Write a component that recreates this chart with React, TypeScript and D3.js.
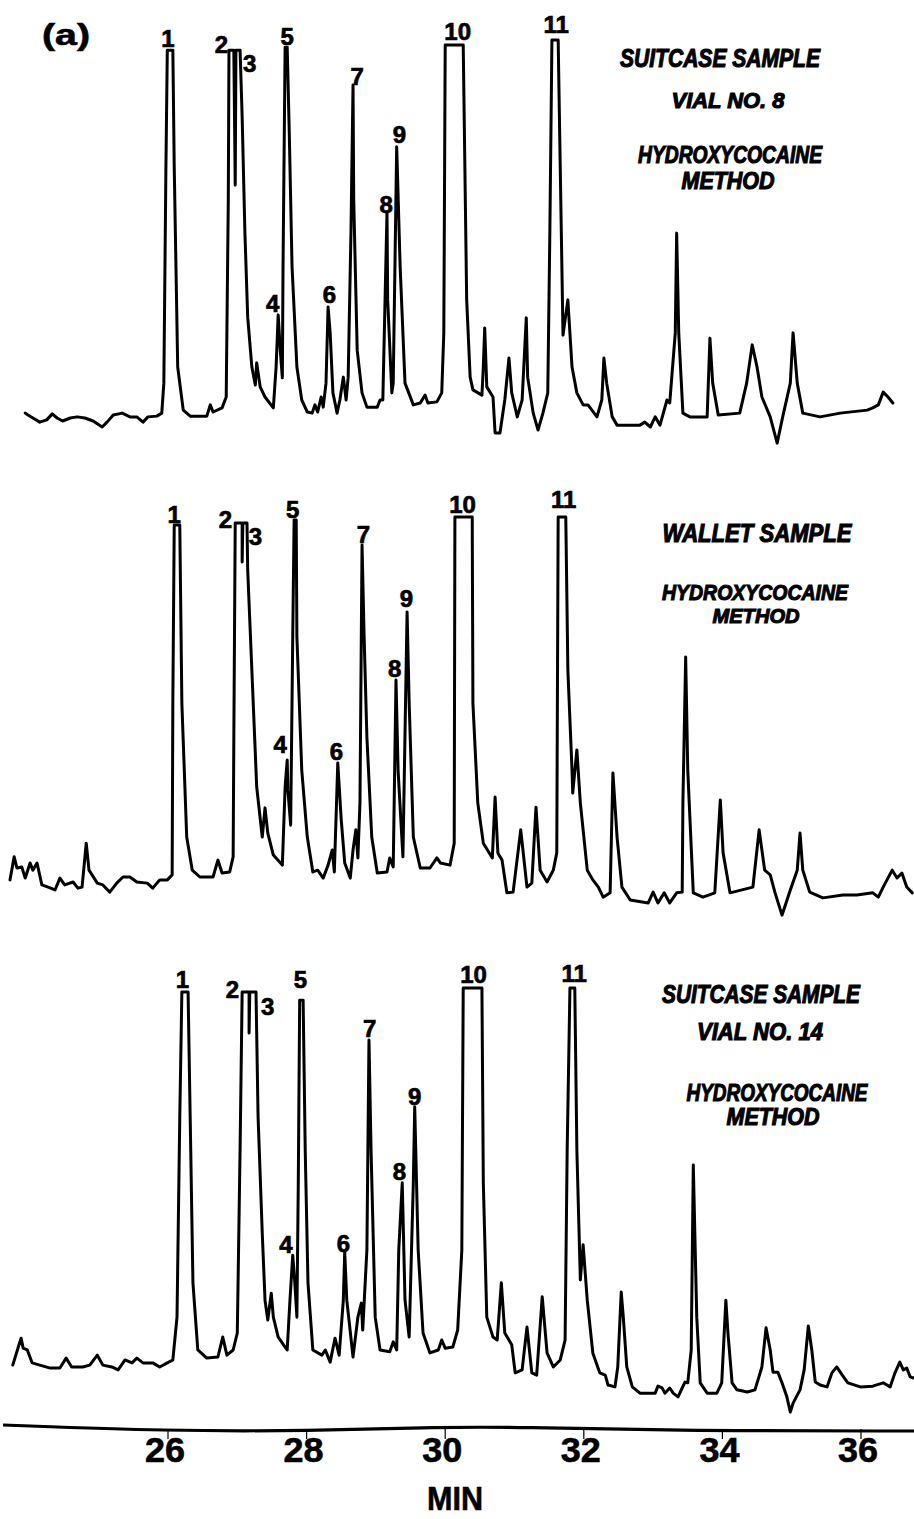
import React from 'react';
import * as d3 from 'd3';

// retention time (min) vs detector response (% of full scale, 100 = pen limit)
const suitcase8: [number, number][] = [
  [23.94, 0.5], [23.98, 0], [24.05, -0.8], [24.15, -1.9], [24.25, -1.3], [24.33, 0.3], [24.4, -0.8],
  [24.48, -1.6], [24.59, -0.8], [24.69, -0.5], [24.8, -0.8], [24.92, -1.6], [25.05, -3.2], [25.12, -1.9],
  [25.21, 0], [25.34, 0.5], [25.45, -0.5], [25.55, -0.5], [25.64, -1.9], [25.71, -0.5], [25.84, -0.3],
  [25.91, 0.5], [25.94, 8.5], [25.97, 66.1], [25.99, 97.3], [26.07, 97.3], [26.09, 66.1], [26.14, 12.8],
  [26.22, 1.3], [26.32, -0.3], [26.56, -0.3], [26.61, 2.7], [26.65, 0.8], [26.78, 1.9], [26.84, 4.8],
  [26.87, 57.3], [26.88, 97.3], [26.95, 97.3], [26.97, 61.3], [26.98, 97.3], [27.04, 97.3], [27.07, 79.5],
  [27.11, 48.5], [27.15, 26.1], [27.21, 12.8], [27.26, 8.0], [27.28, 13.9], [27.33, 7.5], [27.4, 4.8],
  [27.52, 1.9], [27.56, 12.8], [27.59, 26.7], [27.62, 17.3], [27.65, 9.9], [27.66, 39.5], [27.69, 98.1],
  [27.72, 98.1], [27.75, 75.2], [27.79, 39.5], [27.86, 12.8], [27.93, 4.0], [28.01, 0.8], [28.08, 0.5],
  [28.12, 2.7], [28.16, 0.8], [28.21, 4.8], [28.24, 2.1], [28.28, 8.5], [28.31, 28.8], [28.34, 21.9],
  [28.38, 5.9], [28.44, 0.5], [28.48, 4.0], [28.53, 10.1], [28.57, 4.0], [28.6, 10.1], [28.64, 48.5],
  [28.67, 88.0], [28.68, 57.3], [28.73, 17.3], [28.8, 5.9], [28.87, 2.1], [29.02, 2.1], [29.06, 4.0],
  [29.1, 4.0], [29.16, 53.9], [29.17, 30.7], [29.23, 5.9], [29.25, 8.5], [29.3, 71.5], [29.35, 39.5],
  [29.42, 8.5], [29.54, 2.7], [29.64, 3.2], [29.71, 5.3], [29.75, 3.2], [29.88, 3.5], [29.95, 5.9],
  [29.98, 21.9], [30.0, 98.7], [30.26, 98.7], [30.31, 30.7], [30.36, 10.1], [30.4, 6.7], [30.53, 5.3],
  [30.55, 12.8], [30.57, 23.2], [30.6, 7.5], [30.69, 4.8], [30.72, -4.8], [30.79, -4.8], [30.86, 4.0],
  [30.92, 15.2], [30.96, 5.9], [31.04, -0.5], [31.11, 4.0], [31.17, 25.9], [31.19, 10.1], [31.27, 0.5],
  [31.34, -4.0], [31.41, 0.5], [31.48, 5.9], [31.51, 48.5], [31.54, 100], [31.63, 100], [31.66, 66.1],
  [31.7, 21.3], [31.77, 30.7], [31.83, 12.8], [31.9, 5.9], [31.99, 2.7], [32.06, 2.7], [32.19, -0.5],
  [32.26, 4.0], [32.29, 15.2], [32.33, 8.5], [32.41, -0.5], [32.48, -2.7], [32.81, -2.7], [32.88, -1.9],
  [32.96, -3.2], [33.03, -0.5], [33.1, -2.7], [33.2, 4.0], [33.24, 3.2], [33.32, 21.9], [33.34, 48.5],
  [33.37, 21.9], [33.43, 0.5], [33.53, -0.5], [33.78, -0.5], [33.82, 20.5], [33.86, 8.5], [33.94, 0],
  [34.25, 0.5], [34.35, 8.5], [34.43, 18.7], [34.5, 12.8], [34.57, 4.8], [34.69, -0.5], [34.79, -7.5],
  [34.87, -0.5], [34.98, 8.5], [35.02, 21.9], [35.08, 8.5], [35.16, 0.5], [35.41, -0.5], [35.7, 0.5],
  [36.09, 1.3], [36.17, 1.9], [36.25, 2.7], [36.32, 6.1], [36.39, 4.8], [36.46, 3.2],
];

const wallet: [number, number][] = [
  [23.72, -0.8], [23.78, 5.6], [23.82, 2.5], [23.89, 2.8], [23.94, -0.3], [24.01, 3.9], [24.05, 1.9],
  [24.11, 3.9], [24.18, -2.2], [24.27, -2.8], [24.37, -3.6], [24.44, -0.3], [24.51, -2.2], [24.63, -1.4],
  [24.7, -3.1], [24.76, -2.8], [24.82, 9.4], [24.86, 1.9], [24.98, -1.7], [25.06, -2.2], [25.16, -4.2],
  [25.26, -1.7], [25.35, 0], [25.45, 0], [25.55, -1.4], [25.7, -1.7], [25.78, -3.1], [25.88, -0.8],
  [25.99, -0.8], [26.06, 0.6], [26.07, 49.2], [26.09, 97.8], [26.17, 97.8], [26.2, 48.3], [26.27, 11.1],
  [26.35, 1.9], [26.46, 0], [26.65, 0], [26.72, 4.7], [26.78, 1.1], [26.89, 1.4], [26.94, 5.6],
  [26.95, 38.9], [26.97, 98.3], [27.07, 98.3], [27.07, 87.5], [27.08, 98.3], [27.14, 98.3], [27.15, 85.3],
  [27.21, 57.5], [27.28, 25.0], [27.36, 11.1], [27.4, 19.2], [27.44, 12.2], [27.52, 6.1], [27.65, 3.3],
  [27.69, 25.0], [27.72, 32.5], [27.73, 24.2], [27.77, 14.4], [27.8, 66.7], [27.82, 99.2], [27.85, 99.2],
  [27.86, 66.7], [27.93, 29.7], [28.01, 11.1], [28.09, 1.4], [28.16, 1.9], [28.24, -0.3], [28.31, 3.3],
  [28.37, 7.5], [28.4, 1.4], [28.45, 31.7], [28.5, 15.8], [28.55, 3.9], [28.63, -0.3], [28.67, 7.5],
  [28.71, 13.1], [28.74, 5.3], [28.77, 20.6], [28.8, 92.2], [28.83, 66.7], [28.87, 38.9], [28.94, 11.1],
  [29.02, 1.1], [29.16, 1.4], [29.2, 5.3], [29.25, 2.8], [29.29, 54.7], [29.32, 29.7], [29.39, 5.6],
  [29.45, 73.6], [29.48, 48.3], [29.54, 11.1], [29.64, 2.5], [29.78, 2.5], [29.88, 5.3], [29.93, 3.9],
  [30.07, 3.3], [30.13, 9.4], [30.14, 100], [30.39, 100], [30.4, 48.3], [30.47, 20.6], [30.55, 9.4],
  [30.68, 5.3], [30.72, 22.2], [30.76, 6.7], [30.82, 4.7], [30.89, -4.4], [30.98, -4.2], [31.09, 13.1],
  [31.18, -2.8], [31.25, -1.7], [31.31, 19.4], [31.37, 1.9], [31.47, -1.4], [31.56, 1.9], [31.61, 6.7],
  [31.63, 100], [31.74, 100], [31.77, 57.5], [31.83, 29.7], [31.84, 23.3], [31.9, 35.3], [31.95, 20.6],
  [32.05, 1.9], [32.13, -0.8], [32.21, -2.8], [32.28, -5.6], [32.38, -4.4], [32.42, 28.9], [32.48, 11.1],
  [32.55, -2.8], [32.67, -6.4], [32.93, -7.2], [33.0, -4.2], [33.07, -7.2], [33.16, -4.4], [33.24, -7.2],
  [33.34, -4.4], [33.42, -4.2], [33.43, 20.6], [33.47, 61.1], [33.5, 29.7], [33.58, -4.4], [33.72, -5.6],
  [33.89, -4.4], [33.97, 21.4], [34.01, 6.7], [34.11, -4.4], [34.44, -2.8], [34.53, 13.1], [34.61, 1.9],
  [34.69, 0.6], [34.76, -4.4], [34.86, -10.6], [34.98, -3.6], [35.08, 1.9], [35.12, 12.2], [35.16, 1.9],
  [35.26, -4.2], [35.45, -5.8], [35.74, -5.0], [35.94, -5.0], [36.17, -4.4], [36.25, -5.6], [36.32, -2.8],
  [36.45, 1.9], [36.52, -0.3], [36.59, 1.1], [36.66, -2.8], [36.74, -4.4],
];

const suitcase14: [number, number][] = [
  [23.76, -2.2], [23.84, 2.7], [23.88, 5.1], [23.91, 2.4], [23.97, 1.9], [24.04, -1.6], [24.15, -2.2],
  [24.3, -3.0], [24.44, -3.0], [24.53, -0.3], [24.61, -2.7], [24.77, -2.7], [24.87, -2.2], [24.98, 0.5],
  [25.06, -2.2], [25.19, -2.7], [25.28, -3.5], [25.38, -0.8], [25.48, -1.6], [25.55, -0.3], [25.64, -1.6],
  [25.78, -1.6], [25.88, -2.7], [25.99, -1.6], [26.07, -0.8], [26.13, 10.8], [26.17, 65.0], [26.2, 98.9],
  [26.29, 98.9], [26.32, 65.0], [26.36, 20.1], [26.43, 1.9], [26.56, -0.3], [26.72, 0], [26.79, 5.4],
  [26.85, 0.5], [26.94, 1.9], [27.0, 6.5], [27.04, 56.1], [27.07, 98.9], [27.17, 98.9], [27.17, 87.8],
  [27.18, 98.9], [27.27, 98.9], [27.3, 65.0], [27.36, 33.6], [27.4, 15.4], [27.44, 10.0], [27.49, 17.3],
  [27.52, 10.8], [27.59, 5.4], [27.69, 2.7], [27.72, 1.9], [27.76, 15.4], [27.8, 27.6], [27.83, 20.1],
  [27.86, 10.8], [27.88, 47.2], [27.9, 96.7], [27.95, 96.7], [27.98, 56.1], [28.02, 20.1], [28.09, 1.9],
  [28.22, 0.5], [28.27, 1.9], [28.34, -1.4], [28.41, 5.1], [28.47, 0.5], [28.53, 15.4], [28.55, 28.5],
  [28.58, 15.4], [28.67, 0], [28.74, 10.8], [28.79, 14.6], [28.81, 7.3], [28.87, 29.0], [28.9, 85.9],
  [28.93, 56.1], [28.99, 10.8], [29.06, 1.9], [29.2, 1.4], [29.25, 4.1], [29.3, 1.9], [29.33, 29.0],
  [29.38, 47.2], [29.42, 15.4], [29.48, 5.4], [29.54, 47.2], [29.56, 67.8], [29.61, 29.0], [29.68, 6.5],
  [29.78, 1.1], [29.9, 1.9], [29.95, 4.6], [30.0, 2.4], [30.11, 2.7], [30.18, 7.3], [30.24, 29.0],
  [30.26, 100], [30.53, 100], [30.55, 47.2], [30.6, 10.8], [30.69, 5.4], [30.75, 4.6], [30.81, 20.1],
  [30.86, 6.5], [30.96, 3.3], [31.01, -4.3], [31.11, -3.5], [31.18, 8.1], [31.25, -4.3], [31.32, -4.9],
  [31.4, 16.3], [31.47, 1.1], [31.56, -2.7], [31.66, -0.8], [31.73, 4.6], [31.76, 56.1], [31.8, 100],
  [31.87, 100], [31.9, 56.1], [31.95, 20.9], [31.99, 30.4], [32.05, 15.4], [32.13, 1.1], [32.23, -4.3],
  [32.31, -4.9], [32.35, -7.6], [32.45, -8.1], [32.49, -2.7], [32.54, 17.6], [32.57, 10.8], [32.62, -2.7],
  [32.7, -8.1], [32.81, -9.8], [33.03, -9.8], [33.07, -7.9], [33.13, -8.4], [33.17, -9.8], [33.24, -8.4],
  [33.29, -9.8], [33.36, -10.8], [33.42, -8.4], [33.46, -6.8], [33.5, -7.0], [33.55, 1.9], [33.58, 52.0],
  [33.63, 10.8], [33.68, -7.0], [33.78, -9.8], [33.92, -9.8], [33.99, -7.0], [34.05, 15.4], [34.08, 6.5],
  [34.14, -7.0], [34.21, -8.9], [34.36, -9.5], [34.47, -8.9], [34.57, -2.7], [34.63, 7.9], [34.69, 1.9],
  [34.73, -4.1], [34.8, -4.1], [34.86, -7.0], [34.93, -10.8], [34.98, -14.9], [35.02, -12.5], [35.12, -8.9],
  [35.18, -3.5], [35.24, 8.4], [35.29, 1.9], [35.34, -6.8], [35.41, -7.6], [35.51, -8.1], [35.58, -4.3],
  [35.65, -2.7], [35.73, -4.9], [35.81, -7.0], [35.99, -8.1], [36.17, -7.9], [36.32, -7.0], [36.42, -8.1],
  [36.49, -4.3], [36.56, -1.4], [36.61, -3.5], [36.66, -3.0], [36.71, -5.4], [36.76, -5.7],
];

// peak numbers: [label, minute, response at label baseline]
const peaks8: [string, number, number][] = [
  ['1', 26.0, 98.1], ['2', 26.77, 96.5], ['3', 27.18, 91.5], ['4', 27.51, 27.5], ['5', 27.72, 98.7],
  ['6', 28.33, 29.9], ['7', 28.73, 88.0], ['8', 29.15, 53.9], ['9', 29.34, 72.5], ['10', 30.18, 100],
  ['11', 31.6, 101.9],
];
const peaksWallet: [string, number, number][] = [
  ['1', 26.09, 98.3], ['2', 26.83, 96.9], ['3', 27.26, 92.2], ['4', 27.62, 34.4], ['5', 27.8, 99.7],
  ['6', 28.43, 32.5], ['7', 28.82, 92.8], ['8', 29.27, 55.6], ['9', 29.44, 75.0], ['10', 30.25, 101.1],
  ['11', 31.71, 102.5],
];
const peaks14: [string, number, number][] = [
  ['1', 26.21, 100], ['2', 26.93, 97.3], ['3', 27.44, 92.7], ['4', 27.7, 28.2], ['5', 27.91, 100],
  ['6', 28.53, 28.5], ['7', 28.91, 86.7], ['8', 29.34, 48.0], ['9', 29.56, 68.3], ['10', 30.41, 101.4],
  ['11', 31.86, 101.6],
];

const minuteTicks = [26, 28, 30, 32, 34, 36];

// captions: [text, centre x, baseline y, width, size]
const captions8: [string, number, number, number, number][] = [
  ['SUITCASE  SAMPLE', 720, 67, 200, 25],
  ['VIAL  NO. 8', 728, 108, 113, 22],
  ['HYDROXYCOCAINE', 730, 163, 184, 23],
  ['METHOD', 728, 189, 93, 24],
];
const captionsWallet: [string, number, number, number, number][] = [
  ['WALLET   SAMPLE', 757, 542, 189, 25],
  ['HYDROXYCOCAINE', 755, 600, 186, 22],
  ['METHOD', 756, 623, 87, 21],
];
const captions14: [string, number, number, number, number][] = [
  ['SUITCASE  SAMPLE', 761, 1003, 198, 25],
  ['VIAL  NO. 14', 760, 1040, 126, 23],
  ['HYDROXYCOCAINE', 777, 1101, 181, 23],
  ['METHOD', 773, 1125, 93, 23],
];

const W = 914;
const H = 1519;

const x = d3.scaleLinear().domain([26, 36]).range([168, 861]);

const panels = [
  { data: suitcase8, peaks: peaks8, captions: captions8, y: d3.scaleLinear().domain([0, 100]).range([415, 40]) },
  { data: wallet, peaks: peaksWallet, captions: captionsWallet, y: d3.scaleLinear().domain([0, 100]).range([877, 517]) },
  { data: suitcase14, peaks: peaks14, captions: captions14, y: d3.scaleLinear().domain([0, 100]).range([1357, 988]) },
];

const axisY = 1428;
const font = '"Liberation Sans", Arial, sans-serif';

export default function App() {
  const axisLine = d3.line<[number, number]>().curve(d3.curveBasis)(
    [[23.62, -3], [26, 3], [28, 3], [30, -1], [31, -1], [33.5, 3], [36.8, 3]].map(
      ([t, dy]) => [x(t), axisY + dy] as [number, number]
    )
  );

  return (
    <svg width={W} height={H} style={{ position: 'absolute', left: 0, top: 0, background: '#fff' }}>
      <rect width={W} height={H} fill="#fff" />
      <text x={42} y={45} fontFamily={font} fontWeight="bold" fontSize={30} textLength={48}
        lengthAdjust="spacingAndGlyphs" stroke="#000" strokeWidth={0.6}>(a)</text>

      {panels.map((p, i) => {
        const line = d3.line<[number, number]>()
          .x(d => x(d[0]))
          .y(d => p.y(d[1]));
        return (
          <g key={i}>
            <path d={line(p.data) || ''} fill="none" stroke="#000" strokeWidth={3}
              strokeLinejoin="round" strokeLinecap="round" />
            {p.peaks.map(([lab, t, r]) => (
              <text key={lab} x={x(t)} y={p.y(r)} textAnchor="middle" fontFamily={font}
                fontWeight="bold" fontSize={24} stroke="#000" strokeWidth={0.7}>{lab}</text>
            ))}
            {p.captions.map(([txt, cx, by, w, fs]) => (
              <text key={txt} x={cx - w / 2} y={by} fontFamily={font} fontWeight="900"
                fontStyle="italic" fontSize={fs} textLength={w} lengthAdjust="spacingAndGlyphs"
                stroke="#000" strokeWidth={1.1}>{txt}</text>
            ))}
          </g>
        );
      })}

      <path d={axisLine || ''} fill="none" stroke="#000" strokeWidth={3.2} />
      {minuteTicks.map(t => (
        <g key={t}>
          <line x1={x(t)} x2={x(t)} y1={axisY + 1} y2={axisY + 11} stroke="#000" strokeWidth={1.2} />
          <text x={x(t) - 3} y={1462} textAnchor="middle" fontFamily={font} fontWeight="bold"
            fontSize={35} textLength={40} lengthAdjust="spacingAndGlyphs" stroke="#000"
            strokeWidth={0.6}>{t}</text>
        </g>
      ))}
      <text x={455} y={1510} textAnchor="middle" fontFamily={font} fontWeight="bold" fontSize={34}
        textLength={56} lengthAdjust="spacingAndGlyphs" stroke="#000" strokeWidth={0.6}>MIN</text>
    </svg>
  );
}
